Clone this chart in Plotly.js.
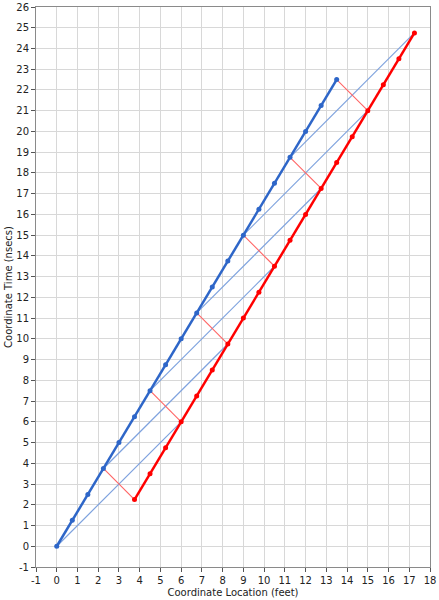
<!DOCTYPE html>
<html>
<head>
<meta charset="utf-8">
<script src="https://cdn.plot.ly/plotly-3.0.1.min.js"></script>
<style>html,body{margin:0;padding:0;background:#fff;}#chart{width:439px;height:600px;}</style>
</head>
<body>
<div id="chart"></div>
<script>
// Blue worldline (coordinate location, coordinate time)
const blueX = [0, 0.75, 1.5, 2.25, 3, 3.75, 4.5, 5.25, 6, 6.75, 7.5, 8.25, 9, 9.75, 10.5, 11.25, 12, 12.75, 13.5];
const blueY = [0, 1.25, 2.5, 3.75, 5, 6.25, 7.5, 8.75, 10, 11.25, 12.5, 13.75, 15, 16.25, 17.5, 18.75, 20, 21.25, 22.5];
// Red worldline
const redX = [3.75, 4.5, 5.25, 6, 6.75, 7.5, 8.25, 9, 9.75, 10.5, 11.25, 12, 12.75, 13.5, 14.25, 15, 15.75, 16.5, 17.25];
const redY = [2.25, 3.5, 4.75, 6, 7.25, 8.5, 9.75, 11, 12.25, 13.5, 14.75, 16, 17.25, 18.5, 19.75, 21, 22.25, 23.5, 24.75];
// Thin blue signals: from blue point to red point
const sigFromX = [0, 2.25, 4.5, 6.75, 9, 11.25];
const sigFromY = [0, 3.75, 7.5, 11.25, 15, 18.75];
const sigToX = [6, 8.25, 10.5, 12.75, 15, 17.25];
const sigToY = [6, 9.75, 13.5, 17.25, 21, 24.75];
// Thin red signals: from red point back to blue point
const echoFromX = [3.75, 6, 8.25, 10.5, 12.75, 15];
const echoFromY = [2.25, 6, 9.75, 13.5, 17.25, 21];
const echoToX = [2.25, 4.5, 6.75, 9, 11.25, 13.5];
const echoToY = [3.75, 7.5, 11.25, 15, 18.75, 22.5];
const xTicks = [-1,0,1,2,3,4,5,6,7,8,9,10,11,12,13,14,15,16,17,18];
const yTicks = [-1,0,1,2,3,4,5,6,7,8,9,10,11,12,13,14,15,16,17,18,19,20,21,22,23,24,25,26];

function segs(fx, fy, tx, ty) {
  const x = [], y = [];
  for (let i = 0; i < fx.length; i++) { x.push(fx[i], tx[i], null); y.push(fy[i], ty[i], null); }
  return {x, y};
}
const s = segs(sigFromX, sigFromY, sigToX, sigToY);
const e = segs(echoFromX, echoFromY, echoToX, echoToY);

const traces = [
  {x: s.x, y: s.y, mode: 'lines', line: {color: '#7ea2de', width: 1.2}, hoverinfo: 'skip'},
  {x: e.x, y: e.y, mode: 'lines', line: {color: '#ff6464', width: 1.1}, hoverinfo: 'skip'},
  {x: blueX, y: blueY, mode: 'lines+markers', line: {color: '#2e66c8', width: 2.5}, marker: {color: '#2e66c8', size: 5}},
  {x: redX, y: redY, mode: 'lines+markers', line: {color: '#ff0000', width: 2.5}, marker: {color: '#ff0000', size: 5}}
];

const axisFont = {family: 'DejaVu Sans', size: 10, color: '#222'};
const layout = {
  width: 439, height: 600,
  margin: {l: 36, r: 9, t: 7, b: 33},
  paper_bgcolor: '#fff', plot_bgcolor: '#fff',
  showlegend: false,
  font: axisFont,
  xaxis: {
    range: [-1, 18], tickvals: xTicks, ticktext: xTicks.map(String),
    showgrid: true, gridcolor: '#d8d8d8', gridwidth: 1,
    zeroline: false, showline: true, linecolor: '#8a8a8a', linewidth: 1, mirror: true,
    ticks: 'outside', ticklen: 4, tickcolor: '#555',
    tickfont: axisFont,
    title: {text: 'Coordinate Location (feet)', font: {family: 'DejaVu Sans', size: 10, color: '#222'}, standoff: 3}
  },
  yaxis: {
    range: [-1, 26], tickvals: yTicks, ticktext: yTicks.map(String),
    showgrid: true, gridcolor: '#d8d8d8', gridwidth: 1,
    zeroline: false, showline: true, linecolor: '#8a8a8a', linewidth: 1, mirror: true,
    ticks: 'outside', ticklen: 4, tickcolor: '#555',
    tickfont: axisFont,
    title: {text: 'Coordinate Time (nsecs)', font: {family: 'DejaVu Sans', size: 10, color: '#222'}, standoff: 1}
  }
};
Plotly.newPlot('chart', traces, layout, {displayModeBar: false, staticPlot: true});
</script>
</body>
</html>
